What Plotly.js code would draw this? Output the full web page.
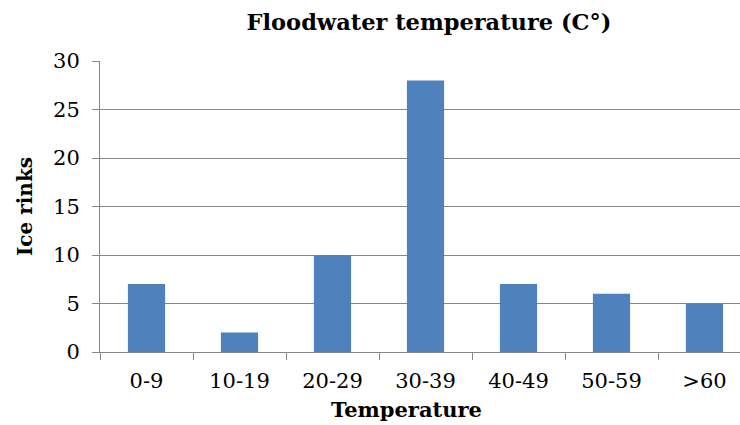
<!DOCTYPE html>
<html>
<head>
<meta charset="utf-8">
<script src="https://cdn.plot.ly/plotly-3.0.1.min.js"></script>
<style>html,body{margin:0;padding:0;background:#fff;}#chart{width:740px;height:425px;}</style>
</head>
<body>
<div id="chart"></div>
<script>
const categories = ["0-9", "10-19", "20-29", "30-39", "40-49", "50-59", ">60"];
const iceRinks = [7, 2, 10, 28, 7, 6, 5];
const yTicks = [0, 5, 10, 15, 20, 25, 30];

const font = "'DejaVu Serif', 'Liberation Serif', serif";
const gray = "#878787";

const data = [{
  type: "bar",
  x: categories,
  y: iceRinks,
  marker: {color: "#4F81BD"},
  hoverinfo: "x+y"
}];

const layout = {
  width: 740,
  height: 425,
  margin: {l: 100, r: 0, t: 61, b: 73, pad: 0},
  paper_bgcolor: "#ffffff",
  plot_bgcolor: "#ffffff",
  bargap: 0.6,
  showlegend: false,
  font: {family: font, color: "#000000", size: 21},
  title: {
    text: "<b>Floodwater temperature (C°)</b>",
    font: {family: font, size: 22.5, color: "#000000"},
    xref: "container", yref: "container",
    x: 429 / 740, xanchor: "center",
    y: 1 - 22 / 425, yanchor: "middle"
  },
  xaxis: {
    type: "category",
    range: [-0.5, -0.5 + 640 / 93],
    showline: true, linecolor: gray, linewidth: 1,
    ticks: "outside", tickson: "boundaries", ticklen: 7, tickcolor: gray, tickwidth: 1,
    showgrid: false, zeroline: false,
    tickfont: {family: font, size: 21, color: "#000000"},
    ticklabelstandoff: 10,
    fixedrange: true
  },
  yaxis: {
    range: [0, 30],
    tickvals: yTicks,
    showline: true, linecolor: gray, linewidth: 1,
    ticks: "outside", ticklen: 7, tickcolor: gray, tickwidth: 1,
    showgrid: true, gridcolor: gray, gridwidth: 1,
    zeroline: false,
    tickfont: {family: font, size: 21, color: "#000000"},
    ticklabelstandoff: 8,
    title: {text: "<b>Ice rinks</b>", font: {family: font, size: 20, color: "#000000"}, standoff: 15},
    fixedrange: true
  },
  annotations: [{
    text: "<b>Temperature</b>",
    xref: "paper", yref: "paper",
    x: (406 - 100) / 640, xanchor: "center",
    y: (352 - 409) / 291, yanchor: "middle",
    showarrow: false,
    font: {family: font, size: 21, color: "#000000"}
  }]
};

Plotly.newPlot("chart", data, layout, {displayModeBar: false, staticPlot: true});
</script>
</body>
</html>
